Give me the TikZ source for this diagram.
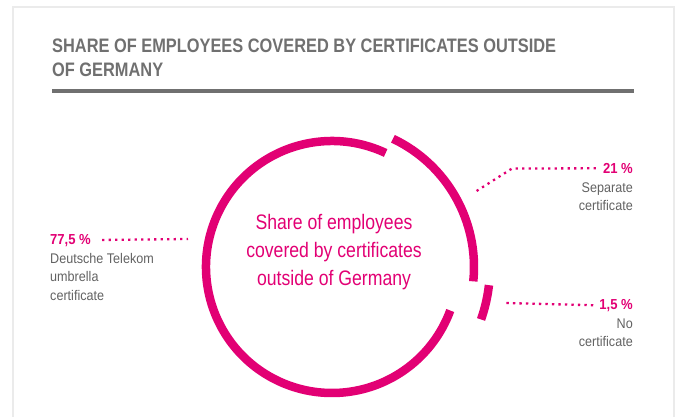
\documentclass[tikz,border=0pt]{standalone}
\usepackage{fontspec}
\setmainfont{Liberation Sans}
\newfontfamily\titlefont[FakeStretch=0.84]{Liberation Sans}
\newfontfamily\centerfont[FakeStretch=0.84]{Liberation Sans}
\newfontfamily\labelfont[FakeStretch=0.9]{Liberation Sans}
\definecolor{tmag}{HTML}{E20074}
\definecolor{tgray}{HTML}{626262}
\definecolor{ttitle}{HTML}{707070}
\definecolor{tframe}{HTML}{EBEBEB}
\tikzset{
  ringarc/.style={draw=tmag, line width=8.5pt},
  dotline/.style={draw=tmag, line width=2.3pt, dash pattern=on 2.3pt off 4.2pt},
  pct/.style={inner sep=0pt, text=tmag, font=\labelfont\bfseries\fontsize{14.5}{18.5}\selectfont},
  lbl/.style={inner sep=0pt, text=tgray, font=\labelfont\fontsize{14}{18.4}\selectfont},
}
\begin{document}
\begin{tikzpicture}[x=1pt,y=-1pt]
\useasboundingbox (0,0) rectangle (677,416);
% frame
\draw[tframe, line width=1.5pt] (13,430) -- (13,7) -- (674,7) -- (674,430);
% title (base anchor = baseline of the last line)
\node[anchor=base west, inner sep=0pt, align=left, text=ttitle,
      font=\titlefont\bfseries\fontsize{19.5}{24}\selectfont] (title) at (52,76)
  {SHARE OF EMPLOYEES COVERED BY CERTIFICATES OUTSIDE\\OF GERMANY};
\draw[ttitle, line width=4pt] (52,91) -- (634,91);
% ring
\coordinate (c) at (332,267);
\draw[ringarc] (c) ++(-64.8:126) arc[start angle=-64.8, end angle=-339.8, radius=126];
\draw[ringarc] (c) ++(-64.6:142) arc[start angle=-64.6, end angle=5.8, radius=142];
\draw[ringarc] (c) ++(6.6:158) arc[start angle=6.6, end angle=19.4, radius=158];
% centre text
\node[anchor=base, inner sep=0pt, align=center, text=tmag,
      font=\centerfont\fontsize{21}{27.85}\selectfont] (ctr) at (334,285)
  {Share of employees\\covered by certificates\\outside of Germany};
% left label
\node[pct, anchor=base west] (p77) at (50,244) {77,5 \%};
\node[lbl, anchor=base west, align=left] (t77) at (50,300) {Deutsche Telekom\\umbrella\\certificate};
\coordinate (e77) at (188,239);
\draw[dotline, shorten <=11pt] (p77.east) -- (e77);
% right upper label
\node[pct, anchor=base east] (p21) at (633,173.3) {21 \%};
\node[lbl, anchor=base east, align=right] (t21) at (633,210.8) {Separate\\certificate};
\coordinate (k21) at (512,168.5);
\coordinate (e21) at (475,192);
\draw[dotline, shorten <=7pt] (p21.west) -- (k21) -- (e21);
% right lower label
\node[pct, anchor=base east] (p15) at (633,309.3) {1,5 \%};
\node[lbl, anchor=base east, align=right] (t15) at (633,346.7) {No\\certificate};
\coordinate (e15) at (505,303);
\draw[dotline, shorten <=6pt] (p15.west) -- (e15);
\end{tikzpicture}
\end{document}
